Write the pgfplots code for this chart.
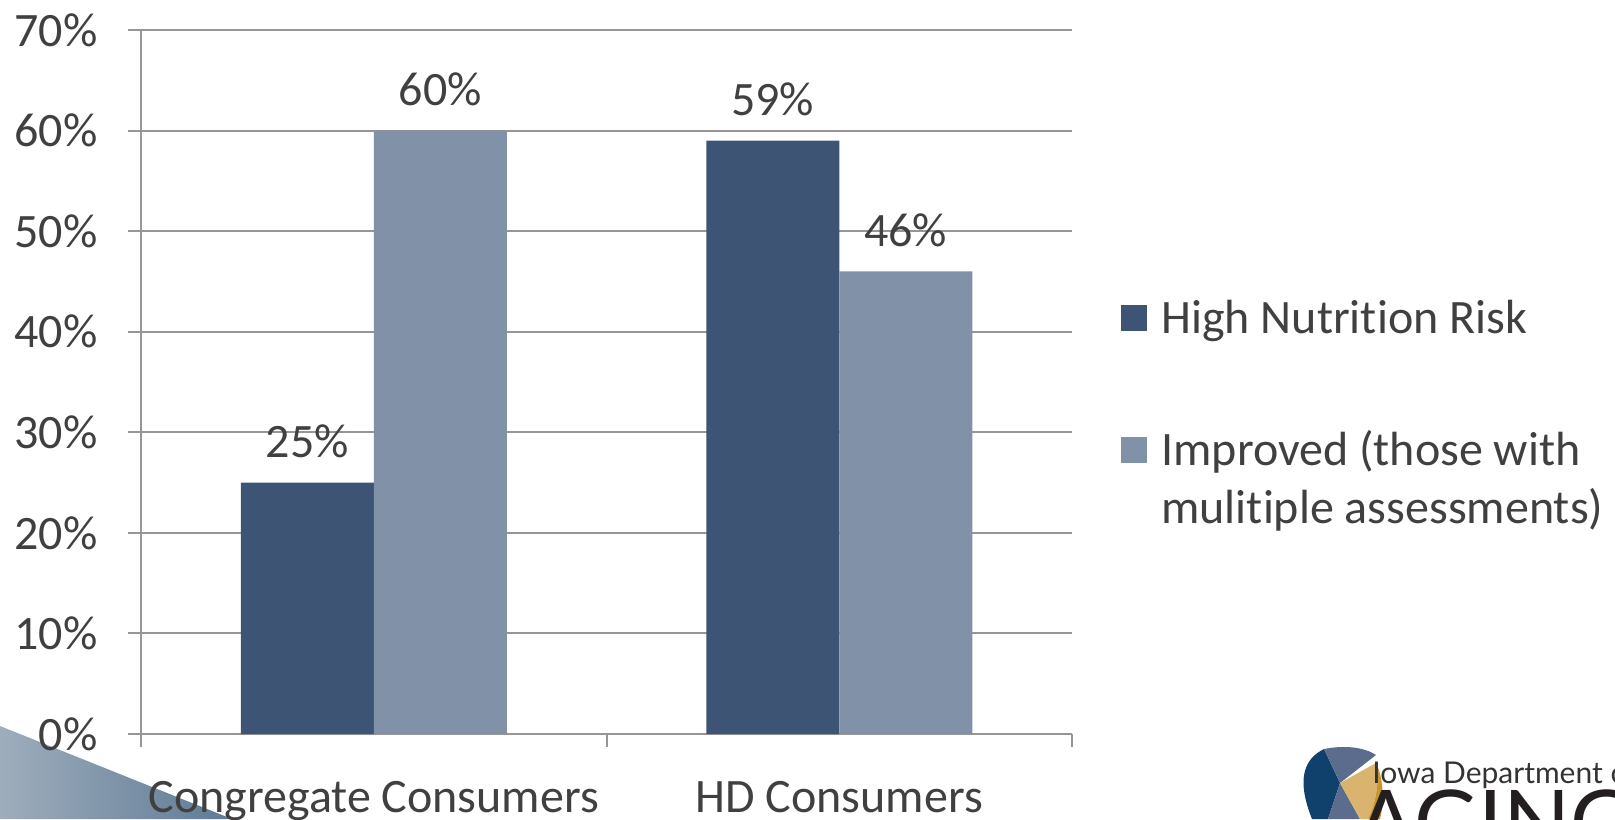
\documentclass[border=0pt]{standalone}
\usepackage{fontspec}
\setmainfont{Carlito}[Ligatures=NoCommon]
\newfontfamily\latofont{Lato}[Ligatures=NoCommon]
\usepackage{pgfplots}
\pgfplotsset{compat=1.18}
\definecolor{darkbar}{RGB}{61,84,116}
\definecolor{lightbar}{RGB}{128,145,168}
\definecolor{txt}{RGB}{64,64,64}
\definecolor{gridc}{RGB}{150,150,150}
\definecolor{navy}{RGB}{16,64,108}
\definecolor{slate}{RGB}{92,108,140}
\definecolor{gold}{RGB}{218,180,110}
\definecolor{dgold}{RGB}{200,150,45}
\definecolor{shadeL}{RGB}{158,173,188}
\definecolor{shadeR}{RGB}{95,122,149}
\definecolor{logotxt}{RGB}{51,51,51}
\definecolor{logobig}{RGB}{35,31,32}
\begin{document}
\begin{tikzpicture}[x=1pt,y=1pt]
\useasboundingbox (0,0) rectangle (807.5,409.5);
% decorative shape bottom-left
\shade[left color=shadeL, right color=shadeR] (0,46.5) -- (116,0) -- (0,0) -- cycle;
% logo (approximate)
\fill[navy] (656,0) .. controls (648,20) and (652,30) .. (662,35) -- (670,18) -- (664,0) -- cycle;
\fill[slate] (662,35) .. controls (672,37) and (682,36) .. (688,32) -- (670,18) -- cycle;
\fill[slate] (664,0) -- (670,18) -- (680,0) -- cycle;
\fill[gold] (670,18) -- (688,28) .. controls (690,20) and (688,8) .. (684,0) -- (680,0) -- cycle;
\fill[dgold] (688,28) .. controls (692,20) and (692,8) .. (690,0) -- (684,0) .. controls (688,8) and (690,20) .. (688,28) -- cycle;
\node[anchor=base west, inner sep=0pt, text=logotxt, font=\latofont\fontsize{15}{18}\selectfont] at (686,18) {Iowa Department of};
\node[anchor=base west, inner sep=0pt, text=logobig, font=\latofont\fontsize{44}{50}\selectfont] at (678,-17) {AGING};
\begin{axis}[
  at={(70.5pt,42.5pt)}, anchor=south west,
  scale only axis, width=465.5pt, height=352pt,
  xmin=-0.5, xmax=1.5, ymin=0, ymax=70,
  axis x line*=bottom, axis y line*=left,
  xtick pos=bottom, ytick pos=left,
  axis line style={gridc, line width=1pt},
  tick style={gridc, line width=1pt},
  major tick length=6.5pt, tick align=outside,
  ytick={0,10,...,70},
  yticklabels={0\%,10\%,20\%,30\%,40\%,50\%,60\%,70\%},
  ymajorgrids, grid style={gridc, line width=1pt},
  xtick={-0.5,0.5,1.5},
  x tick label as interval,
  xticklabels={Congregate Consumers,HD Consumers},
  tick label style={font=\fontsize{24}{29}\selectfont, text=txt, inner sep=0pt},
  yticklabel style={anchor=east, xshift=-15pt},
  xticklabel style={yshift=-17pt},
  /pgf/number format/assume math mode=true,
  ybar, bar width=0.2857,
  nodes near coords={\pgfmathprintnumber{\pgfplotspointmeta}\%},
  nodes near coords style={font=\fontsize{24}{29}\selectfont, text=txt, anchor=base, yshift=12.5pt, inner sep=0pt},
  legend style={at={(1.0526,0.6165)}, anchor=north west, draw=none, fill=none,
    font=\fontsize{24}{29}\selectfont, text=txt, row sep=44pt, column sep=7pt,
    inner sep=0pt, nodes={inner sep=0pt}, cells={anchor=base west}},
]
\addplot[fill=darkbar, draw=none, bar shift=-0.142857,
  legend image code/.code={\fill[darkbar] (0pt,1.2pt) rectangle (13pt,14.2pt);}]
  coordinates {(0,25) (1,59)};
\addplot[fill=lightbar, draw=none, bar shift=0.142857,
  legend image code/.code={\fill[lightbar] (0pt,1.2pt) rectangle (13pt,14.2pt);}]
  coordinates {(0,60) (1,46)};
\addlegendentry{High Nutrition Risk}
\addlegendentry{\begin{tabular}[t]{@{}l@{}}Improved (those with\\mulitiple assessments)\end{tabular}}
\end{axis}
\end{tikzpicture}
\end{document}
